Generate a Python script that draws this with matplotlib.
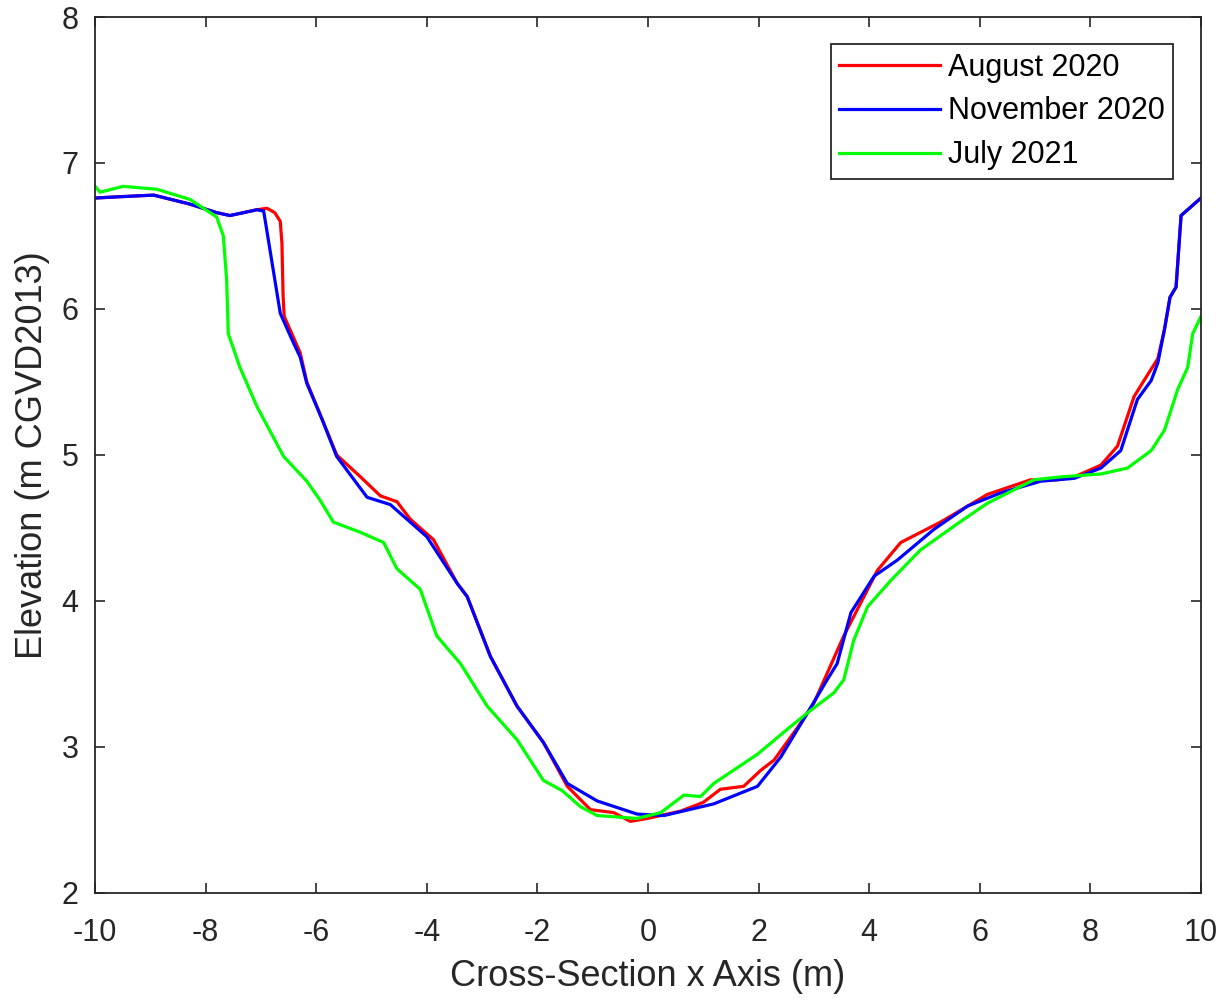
import matplotlib.pyplot as plt
import numpy as np

plt.rcParams['font.family'] = ['Liberation Sans', 'DejaVu Sans']
plt.rcParams['axes.unicode_minus'] = False

# August 2020 survey
x_aug = [-10, -9.5, -8.94, -8.3, -7.80, -7.56, -7.07, -6.89, -6.75, -6.65, -6.62, -6.60, -6.58,
         -6.29, -6.17, -5.9, -5.63, -5.2, -4.84, -4.54, -4.3, -3.88, -3.45, -3.27, -2.85, -2.37,
         -1.89, -1.46, -1.04, -0.62, -0.32, -0.01, 0.59, 1.0, 1.31, 1.73, 2.04, 2.28, 2.70, 3.0,
         3.54, 4.15, 4.57, 5.29, 6.14, 6.92, 7.4, 7.71, 8.19, 8.49, 8.79, 8.97, 9.22, 9.34, 9.44,
         9.55, 9.64, 10]
y_aug = [6.76, 6.77, 6.78, 6.72, 6.66, 6.64, 6.68, 6.69, 6.66, 6.60, 6.45, 6.10, 5.95,
         5.70, 5.50, 5.25, 5.00, 4.85, 4.72, 4.68, 4.56, 4.42, 4.12, 4.03, 3.62, 3.28,
         3.03, 2.73, 2.57, 2.55, 2.49, 2.51, 2.56, 2.62, 2.71, 2.73, 2.84, 2.91, 3.13, 3.30,
         3.76, 4.21, 4.40, 4.54, 4.73, 4.83, 4.83, 4.85, 4.93, 5.06, 5.40, 5.51, 5.66, 5.86, 6.08,
         6.15, 6.64, 6.76]

# November 2020 survey
x_nov = [-10, -9.5, -8.94, -8.3, -7.80, -7.56, -7.07, -6.95, -6.80, -6.65, -6.45, -6.29, -6.17,
         -5.9, -5.63, -5.08, -4.66, -4.00, -3.45, -3.27, -2.85, -2.37, -1.89, -1.46, -0.92, -0.20,
         0.29, 1.19, 1.98, 2.40, 2.88, 3.24, 3.42, 3.67, 4.09, 4.51, 5.17, 5.78, 6.38, 7.10, 7.71,
         8.19, 8.55, 8.73, 8.85, 9.10, 9.22, 9.34, 9.44, 9.55, 9.64, 10]
y_nov = [6.76, 6.77, 6.78, 6.72, 6.66, 6.64, 6.68, 6.67, 6.32, 5.97, 5.80, 5.67, 5.49,
         5.25, 4.99, 4.71, 4.66, 4.44, 4.12, 4.03, 3.62, 3.28, 3.03, 2.75, 2.63, 2.54,
         2.53, 2.61, 2.73, 2.93, 3.23, 3.46, 3.57, 3.92, 4.17, 4.28, 4.49, 4.65, 4.74, 4.82, 4.84,
         4.91, 5.03, 5.24, 5.38, 5.51, 5.63, 5.86, 6.08, 6.15, 6.64, 6.76]

# July 2021 survey
x_jul = [-10, -9.91, -9.49, -8.88, -8.28, -7.80, -7.68, -7.62, -7.59, -7.38, -7.07, -6.59, -6.17,
         -5.93, -5.69, -5.20, -4.78, -4.54, -4.12, -3.82, -3.39, -2.91, -2.37, -2.25, -1.89, -1.55,
         -1.22, -0.92, -0.20, 0.23, 0.65, 0.95, 1.19, 1.98, 2.58, 2.94, 3.36, 3.54, 3.72, 3.97,
         4.39, 4.93, 5.60, 6.14, 6.98, 7.47, 8.19, 8.67, 9.10, 9.34, 9.46, 9.58, 9.76, 9.85, 10]
y_jul = [6.84, 6.80, 6.84, 6.82, 6.75, 6.63, 6.50, 6.20, 5.83, 5.60, 5.33, 4.99, 4.82,
         4.69, 4.54, 4.47, 4.40, 4.22, 4.08, 3.76, 3.57, 3.28, 3.05, 2.98, 2.77, 2.70,
         2.59, 2.53, 2.51, 2.55, 2.67, 2.66, 2.75, 2.95, 3.14, 3.25, 3.37, 3.46, 3.73, 3.96,
         4.14, 4.35, 4.53, 4.67, 4.83, 4.85, 4.87, 4.91, 5.03, 5.17, 5.31, 5.45, 5.60, 5.83, 5.95]

fig = plt.figure(figsize=(12.31, 10.01), dpi=100)
ax = fig.add_axes([0.0772, 0.108, 0.8984, 0.875])

lw = 2.3
ax.plot(x_aug, y_aug, color=(1, 0, 0), lw=lw, label='August 2020')
ax.plot(x_nov, y_nov, color=(0, 0, 1), lw=lw, label='November 2020')
ax.plot(x_jul, y_jul, color=(0, 1, 0), lw=lw, label='July 2021')

ax.set_xlim(-10, 10)
ax.set_ylim(2, 8)
ax.set_xticks(np.arange(-10, 11, 2))
ax.set_yticks(np.arange(2, 9, 1))

dark = '#262626'
for s in ax.spines.values():
    s.set_color(dark)
    s.set_linewidth(1.3)
ax.tick_params(direction='in', top=True, right=True, length=7, width=1.2,
               colors=dark, labelsize=22, labelcolor=dark)
ax.tick_params(axis='x', pad=18)
ax.tick_params(axis='y', pad=12)

ax.set_xlabel('Cross-Section x Axis (m)', fontsize=26, color=dark, labelpad=8)
ax.set_ylabel('Elevation (m CGVD2013)', fontsize=26, color=dark, labelpad=8)

leg = ax.legend(loc='upper right', bbox_to_anchor=(0.975, 0.969), fontsize=22,
                handlelength=3.3, handletextpad=0.25, labelspacing=0.45,
                borderpad=0.28, borderaxespad=0, fancybox=False, framealpha=1)
leg.get_frame().set_edgecolor(dark)
leg.get_frame().set_linewidth(1.3)

plt.savefig('out.png', dpi=100)
